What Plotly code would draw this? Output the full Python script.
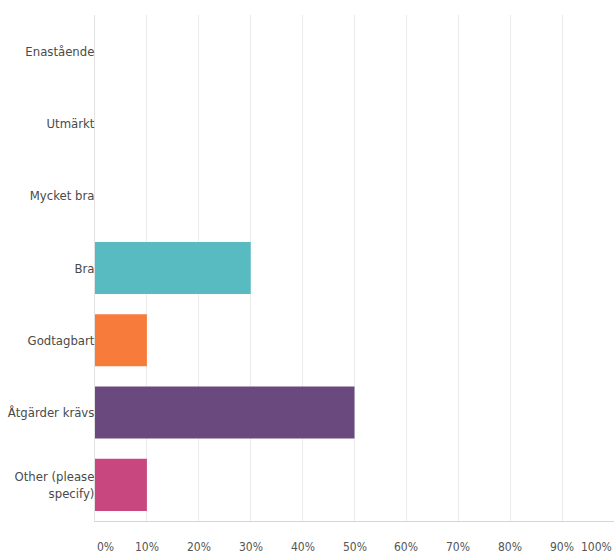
import plotly.graph_objects as go

categories = ["Enastående", "Utmärkt", "Mycket bra", "Bra", "Godtagbart",
              "Åtgärder krävs", "Other (please specify)"]
category_labels = ["Enastående", "Utmärkt", "Mycket bra", "Bra", "Godtagbart",
                   "Åtgärder krävs", "Other (please<br>specify)"]
values = [0, 0, 0, 30, 10, 50, 10]
bar_colors = ["#57BBC1", "#57BBC1", "#57BBC1", "#57BBC1", "#F77B3A",
              "#6A4A7E", "#C8477E"]
x_ticks = [0, 10, 20, 30, 40, 50, 60, 70, 80, 90, 100]
x_tick_labels = ["0%", "10%", "20%", "30%", "40%", "50%", "60%", "70%",
                 "80%", "90%", "100%"]

FONT = "Liberation Sans Narrow, DejaVu Sans Condensed, Arial Narrow, sans-serif"

fig = go.Figure(go.Bar(
    x=values, y=categories, orientation="h",
    marker=dict(color=bar_colors, line=dict(width=0)),
))

annotations = []
for i, (v, t) in enumerate(zip(x_ticks, x_tick_labels)):
    anchor = "left" if i == 0 else ("right" if i == len(x_ticks) - 1 else "center")
    annotations.append(dict(
        x=v, y=0, xref="x", yref="paper", text=t, showarrow=False,
        xanchor=anchor, yanchor="middle", yshift=-26,
        font=dict(family=FONT, size=12, color="#555"),
    ))

fig.update_layout(
    width=615, height=556,
    margin=dict(l=95, r=1, t=15, b=35),
    paper_bgcolor="white", plot_bgcolor="white",
    bargap=0.28,
    showlegend=False,
    annotations=annotations,
    font=dict(family=FONT, size=13, color="#4a4a4a"),
)
fig.update_xaxes(
    range=[0, 100], tickvals=x_ticks, showticklabels=False,
    showgrid=True, gridcolor="#EBEBEB", gridwidth=1,
    zeroline=False, showline=True, linecolor="#D5D5D5", linewidth=1,
    mirror=False, fixedrange=True,
)
fig.update_yaxes(
    categoryorder="array", categoryarray=categories,
    tickvals=categories, ticktext=category_labels,
    autorange="reversed", showgrid=False, zeroline=False,
    showline=True, linecolor="#E2E2E2", linewidth=1,
    ticks="", ticklabelstandoff=-3,
    tickfont=dict(family=FONT, size=13, color="#4a4a4a"),
    fixedrange=True,
)

fig.write_html("out.html")
